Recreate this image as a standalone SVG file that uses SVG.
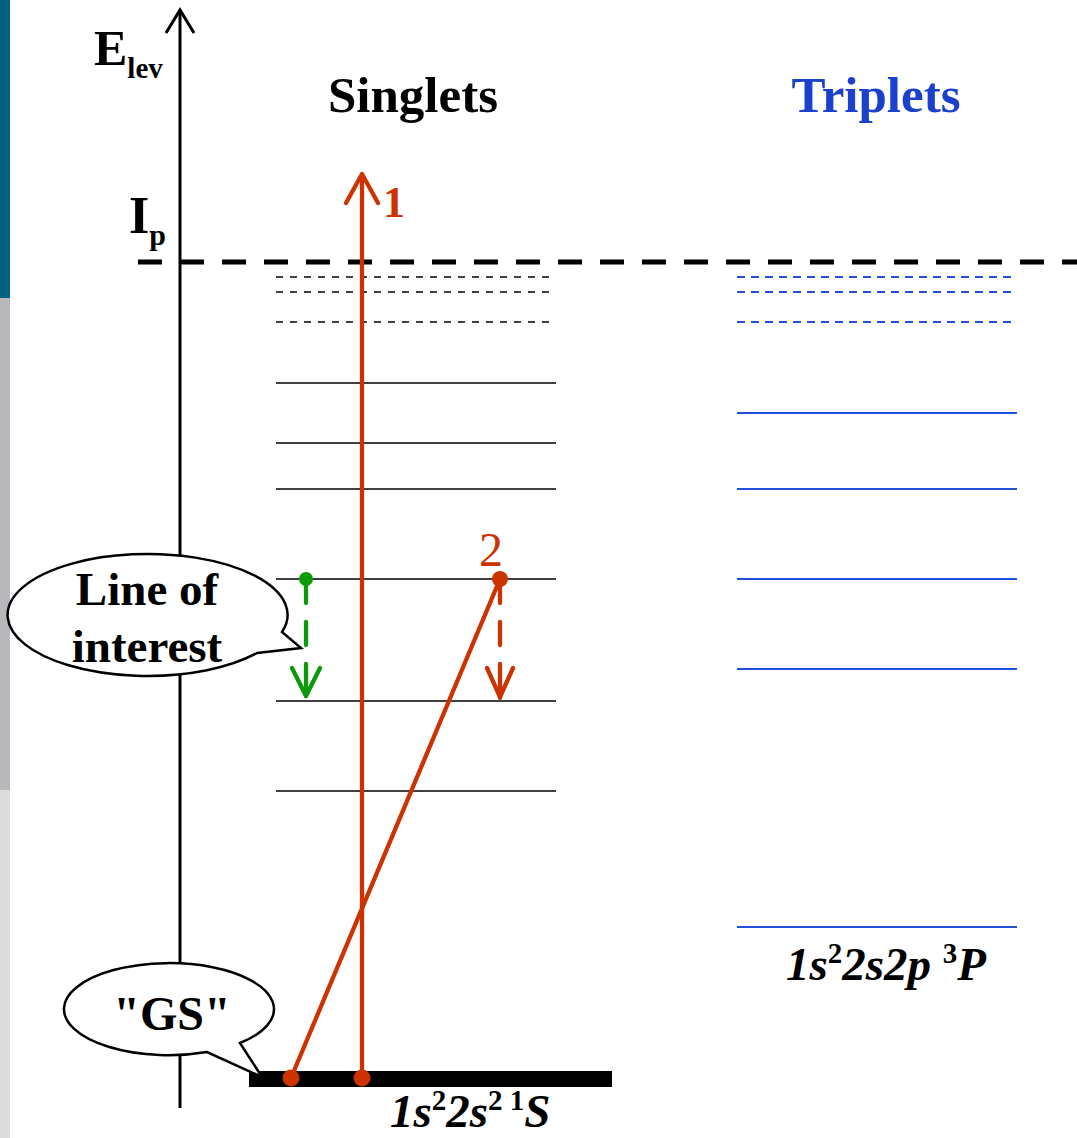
<svg xmlns="http://www.w3.org/2000/svg" width="1077" height="1138" viewBox="0 0 1077 1138">
<style>
.t{font-family:"Liberation Serif","Times New Roman",serif;font-weight:bold}
.sup{font-style:normal;font-weight:bold;font-size:29px}
.lv{stroke:#000;stroke-width:1.6;fill:none}
.ld{stroke:#000;stroke-width:1.6;stroke-dasharray:7 7;fill:none}
.bv{stroke:#2250d8;stroke-width:1.8;fill:none}
.bd{stroke:#2250d8;stroke-width:1.8;stroke-dasharray:8 6;fill:none}
.red{stroke:#cc3300;stroke-width:4.3;fill:none;stroke-linecap:round;stroke-linejoin:round}
.grn{stroke:#0a9a0a;stroke-width:4.3;fill:none;stroke-linecap:round;stroke-linejoin:round}
.call{fill:#fff;stroke:#000;stroke-width:2.5}
</style>
<rect width="1077" height="1138" fill="#fff"/>
<g id="sidebar">
<rect x="0" y="0" width="10" height="298" fill="#006080"/>
<rect x="0" y="298" width="10" height="492" fill="#b8b8bc"/>
<rect x="0" y="790" width="10" height="348" fill="#dcdcdc"/>
</g>
<g id="axis">
<line x1="180" y1="10" x2="180" y2="1108" stroke="#000" stroke-width="3"/>
<polyline points="166,33 180,10 194,33" fill="none" stroke="#000" stroke-width="3"/>
<text class="t" x="94" y="65" font-size="50">E<tspan font-size="29" dy="13">lev</tspan></text>
<text class="t" x="129" y="233" font-size="52">I<tspan font-size="30" dy="12">p</tspan></text>
</g>
<g id="ionization">
<line x1="138" y1="262" x2="1077" y2="262" stroke="#000" stroke-width="5" stroke-dasharray="24 18"/>
</g>
<g id="singlets">
<text class="t" x="413" y="112" font-size="51" text-anchor="middle">Singlets</text>
<line class="ld" x1="276" y1="277" x2="550" y2="277"/>
<line class="ld" x1="276" y1="292" x2="550" y2="292"/>
<line class="ld" x1="276" y1="322" x2="550" y2="322"/>
<line class="lv" x1="276" y1="383" x2="556" y2="383"/>
<line class="lv" x1="276" y1="443" x2="556" y2="443"/>
<line class="lv" x1="276" y1="489" x2="556" y2="489"/>
<line class="lv" x1="276" y1="579" x2="556" y2="579"/>
<line class="lv" x1="276" y1="701" x2="556" y2="701"/>
<line class="lv" x1="276" y1="791" x2="556" y2="791"/>
</g>
<g id="triplets">
<text class="t" x="876" y="112" font-size="51" text-anchor="middle" fill="#1a40cc">Triplets</text>
<line class="bd" x1="737" y1="277" x2="1011" y2="277"/>
<line class="bd" x1="737" y1="292" x2="1011" y2="292"/>
<line class="bd" x1="737" y1="322" x2="1011" y2="322"/>
<line class="bv" x1="737" y1="413" x2="1017" y2="413"/>
<line class="bv" x1="737" y1="489" x2="1017" y2="489"/>
<line class="bv" x1="737" y1="579" x2="1017" y2="579"/>
<line class="bv" x1="737" y1="669" x2="1017" y2="669"/>
<line class="bv" x1="737" y1="927" x2="1017" y2="927"/>
<text class="t" x="786" y="980" font-size="47" font-style="italic">1s<tspan class="sup" dy="-17">2</tspan><tspan dy="17">2s2p </tspan><tspan class="sup" dy="-17">3</tspan><tspan dy="17">P</tspan></text>
</g>
<g id="ground">
<rect x="249" y="1071" width="363" height="16" fill="#000"/>
<text class="t" x="390" y="1127" font-size="47" font-style="italic">1s<tspan class="sup" dy="-17">2</tspan><tspan dy="17">2s</tspan><tspan class="sup" dy="-17">2 1</tspan><tspan dy="17">S</tspan></text>
</g>
<g id="connectors">
<line class="red" x1="362" y1="1078" x2="362" y2="176"/>
<polyline class="red" points="346,203 362,174 378,203"/>
<line class="red" x1="291" y1="1078" x2="500" y2="579"/>
<line class="red" x1="500" y1="587" x2="500" y2="603"/>
<line class="red" x1="500" y1="622" x2="500" y2="645"/>
<line class="red" x1="500" y1="664" x2="500" y2="698"/>
<polyline class="red" points="487,668 500,697 513,668"/>
<circle cx="500" cy="579" r="8" fill="#cc3300"/>
<circle cx="291" cy="1078" r="8.5" fill="#cc3300"/>
<circle cx="362" cy="1078" r="8.5" fill="#cc3300"/>
<line class="grn" x1="306" y1="585" x2="306" y2="603"/>
<line class="grn" x1="306" y1="622" x2="306" y2="645"/>
<line class="grn" x1="306" y1="664" x2="306" y2="696"/>
<polyline class="grn" points="292,668 306,696 320,668"/>
<circle cx="306" cy="579" r="7" fill="#0a9a0a"/>
<text class="t" x="383" y="217" font-size="44" fill="#cc3300">1</text>
<text x="491" y="566" font-size="48" fill="#cc3300" text-anchor="middle" font-family="Liberation Serif,serif">2</text>
</g>
<g id="callout-line">
<path class="call" d="M282,632 A140,61 0 1 0 257,653 L301,648 Z"/>
<text class="t" x="147" y="605" font-size="47" text-anchor="middle">Line of</text>
<text class="t" x="147" y="662" font-size="47" text-anchor="middle">interest</text>
</g>
<g id="callout-gs">
<path class="call" d="M240,1043 A105,46 0 1 0 207,1052 L262,1077 Z"/>
<text class="t" x="172" y="1030" font-size="48" text-anchor="middle">"GS"</text>
</g>
</svg>
